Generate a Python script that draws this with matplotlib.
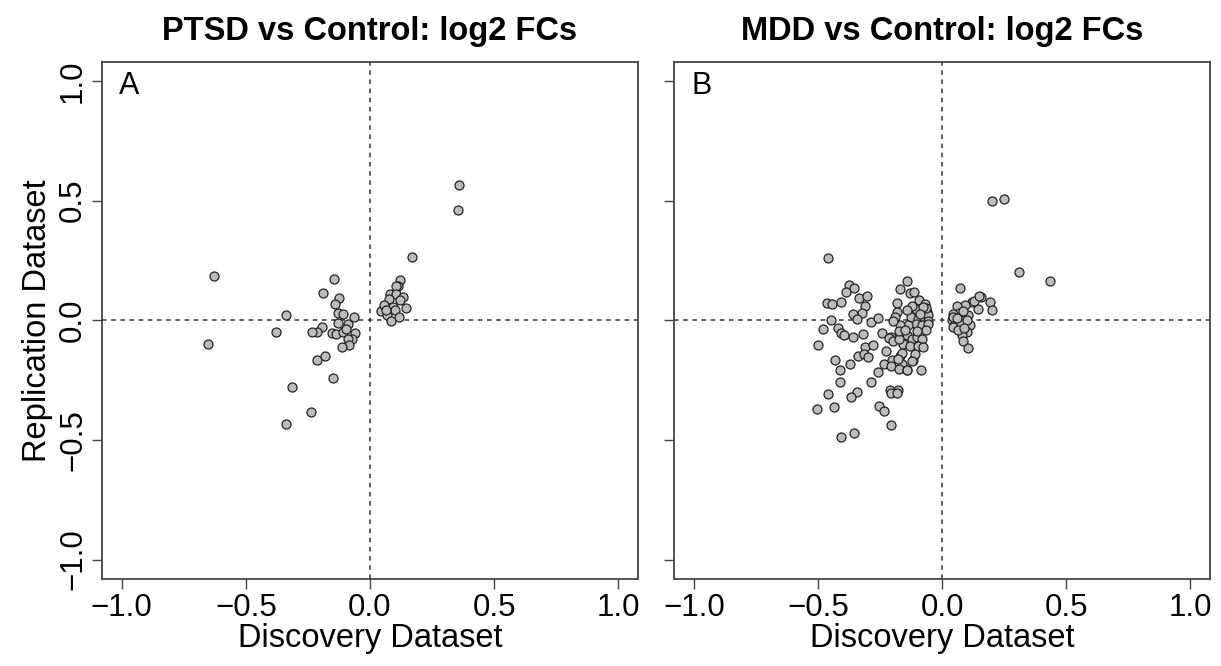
import matplotlib
matplotlib.use("Agg")
import matplotlib.pyplot as plt

plt.rcParams["font.family"] = ["Liberation Sans", "DejaVu Sans"]

# log2 fold changes, discovery vs replication
ptsd_disc = [-0.629, -0.653, -0.340, -0.379, -0.313, -0.340, -0.237, -0.149, -0.212, -0.180,
             -0.190, -0.144, -0.126, -0.141, -0.129, -0.110, -0.128, -0.192, -0.212, -0.233,
             -0.151, -0.137, -0.109, -0.090, -0.065, -0.059, -0.074, -0.089, -0.085, -0.112,
             -0.098,
             0.171, 0.122, 0.113, 0.103, 0.079, 0.103, 0.133, 0.075, 0.122, 0.062,
             0.093, 0.147, 0.043, 0.070, 0.099, 0.116, 0.086, 0.055, 0.066, 0.360, 0.355]
ptsd_rep = [0.185, -0.099, 0.022, -0.049, -0.279, -0.433, -0.385, -0.242, -0.165, -0.150,
            0.115, 0.174, 0.093, 0.069, 0.029, 0.026, -0.010, -0.026, -0.047, -0.049,
            -0.051, -0.057, -0.049, -0.015, 0.015, -0.054, -0.079, -0.078, -0.104, -0.113,
            -0.038,
            0.265, 0.168, 0.143, 0.143, 0.110, 0.110, 0.096, 0.088, 0.085, 0.060,
            0.057, 0.050, 0.039, 0.024, 0.043, 0.013, -0.001, 0.064, 0.043, 0.565, 0.463]

mdd_disc = [-0.458, -0.374, -0.354, -0.386, -0.465, -0.442, -0.407, -0.335, -0.301, -0.309,
            -0.324, -0.360, -0.344, -0.286, -0.259, -0.448, -0.478, -0.421, -0.405, -0.394,
            -0.358, -0.320, -0.241, -0.206, -0.501, -0.431, -0.371, -0.411, -0.413, -0.458,
            -0.503, -0.435, -0.344, -0.368, -0.407, -0.356, -0.340, -0.310, -0.277, -0.313,
            -0.297, -0.226, -0.259, -0.288, -0.233, -0.203, -0.206, -0.169, -0.163, -0.173,
            -0.210, -0.179, -0.205, -0.182, -0.254, -0.234, -0.206, -0.215, -0.199, -0.159,
            -0.140, -0.086, -0.116,
            -0.140, -0.169, -0.129, -0.112, -0.181, -0.091, -0.069, -0.180, -0.116, -0.085,
            -0.106, -0.062, -0.125, -0.095, -0.071, -0.055, -0.058, -0.106, -0.082, -0.136,
            -0.190, -0.169, -0.196, -0.055, -0.142, -0.173, -0.121, -0.102, -0.079, -0.129,
            -0.095, -0.075, -0.163, -0.109, -0.179, -0.121, -0.142, -0.172, -0.065, -0.075,
            -0.090, -0.120, -0.100, -0.065, -0.140, -0.150,
            0.203, 0.250, 0.310, 0.434, 0.073, 0.157, 0.194, 0.203, 0.144, 0.120,
            0.093, 0.059, 0.070, 0.106, 0.046, 0.039, 0.052, 0.113, 0.102, 0.079,
            0.083, 0.106, 0.077, 0.046, 0.045, 0.060, 0.085, 0.130, 0.150, 0.100,
            0.065, 0.090]
mdd_rep = [0.260, 0.146, 0.135, 0.118, 0.072, 0.069, 0.075, 0.094, 0.100, 0.058,
           0.032, 0.028, 0.006, -0.006, 0.011, 0.000, -0.035, -0.031, -0.053, -0.063,
           -0.069, -0.056, -0.053, -0.069, -0.104, -0.164, -0.183, -0.208, -0.257, -0.306,
           -0.372, -0.361, -0.299, -0.322, -0.486, -0.469, -0.149, -0.111, -0.104, -0.142,
           -0.153, -0.128, -0.215, -0.257, -0.181, -0.164, -0.192, -0.150, -0.183, -0.205,
           -0.292, -0.292, -0.305, -0.305, -0.358, -0.380, -0.438, -0.072, -0.086, -0.097,
           -0.208, -0.208, -0.167,
           0.163, 0.132, 0.114, 0.118, 0.072, 0.083, 0.069, 0.035, 0.035, 0.042,
           0.049, 0.035, 0.014, 0.007, 0.011, 0.021, -0.003, -0.017, -0.021, -0.021,
           0.014, -0.021, -0.004, -0.014, -0.063, -0.076, -0.076, -0.069, -0.076, -0.108,
           -0.108, -0.111, -0.136, -0.139, -0.160, -0.169, -0.206, -0.044, 0.050, 0.055,
           0.025, 0.060, -0.045, -0.040, 0.045, -0.040,
           0.497, 0.509, 0.200, 0.164, 0.137, 0.097, 0.076, 0.042, 0.046, 0.076,
           0.065, 0.058, 0.031, 0.021, 0.028, 0.000, -0.014, -0.021, -0.049, -0.060,
           -0.088, -0.115, -0.014, -0.028, 0.014, 0.010, 0.040, 0.080, 0.100, 0.000,
           -0.040, -0.030]

titles = ["PTSD vs Control: log2 FCs", "MDD vs Control: log2 FCs"]
letters = ["A", "B"]
ticks = [-1.0, -0.5, 0.0, 0.5, 1.0]
tick_labels = ["\u22121.0", "\u22120.5", "0.0", "0.5", "1.0"]

fig = plt.figure(figsize=(12.21, 6.66), dpi=100)
ax_a = fig.add_axes([0.0835, 0.131, 0.439, 0.776])
ax_b = fig.add_axes([0.552, 0.131, 0.439, 0.776])

panels = [(ax_a, ptsd_disc, ptsd_rep), (ax_b, mdd_disc, mdd_rep)]
for i, (ax, xs, ys) in enumerate(panels):
    ax.axhline(0, color="#333333", lw=1.1, ls=(0, (3, 3)), zorder=1)
    ax.axvline(0, color="#333333", lw=1.1, ls=(0, (3, 3)), zorder=1)
    ax.scatter(xs, ys, s=42, c="#bcbcbc", edgecolors="#222222", linewidths=0.9, zorder=3)
    ax.set_xlim(-1.08, 1.08)
    ax.set_ylim(-1.08, 1.08)
    ax.set_xticks(ticks)
    ax.set_xticklabels(tick_labels)
    ax.set_yticks(ticks)
    ax.tick_params(length=7, width=1.0, color="#444444", labelsize=22.5, pad=3)
    if i == 0:
        ax.set_yticklabels(tick_labels, rotation=90, va="center")
        ax.set_ylabel("Replication Dataset", fontsize=23.5, labelpad=4)
    else:
        ax.set_yticklabels([])
    for sp in ax.spines.values():
        sp.set_color("#444444")
        sp.set_linewidth(1.3)
    ax.set_xlabel("Discovery Dataset", fontsize=23.5, labelpad=0)
    ax.set_title(titles[i], fontsize=23.5, fontweight="bold", pad=16)
    ax.text(-0.97, 0.98, letters[i], fontsize=22, ha="center", va="center")

fig.savefig("out.png", dpi=100)
